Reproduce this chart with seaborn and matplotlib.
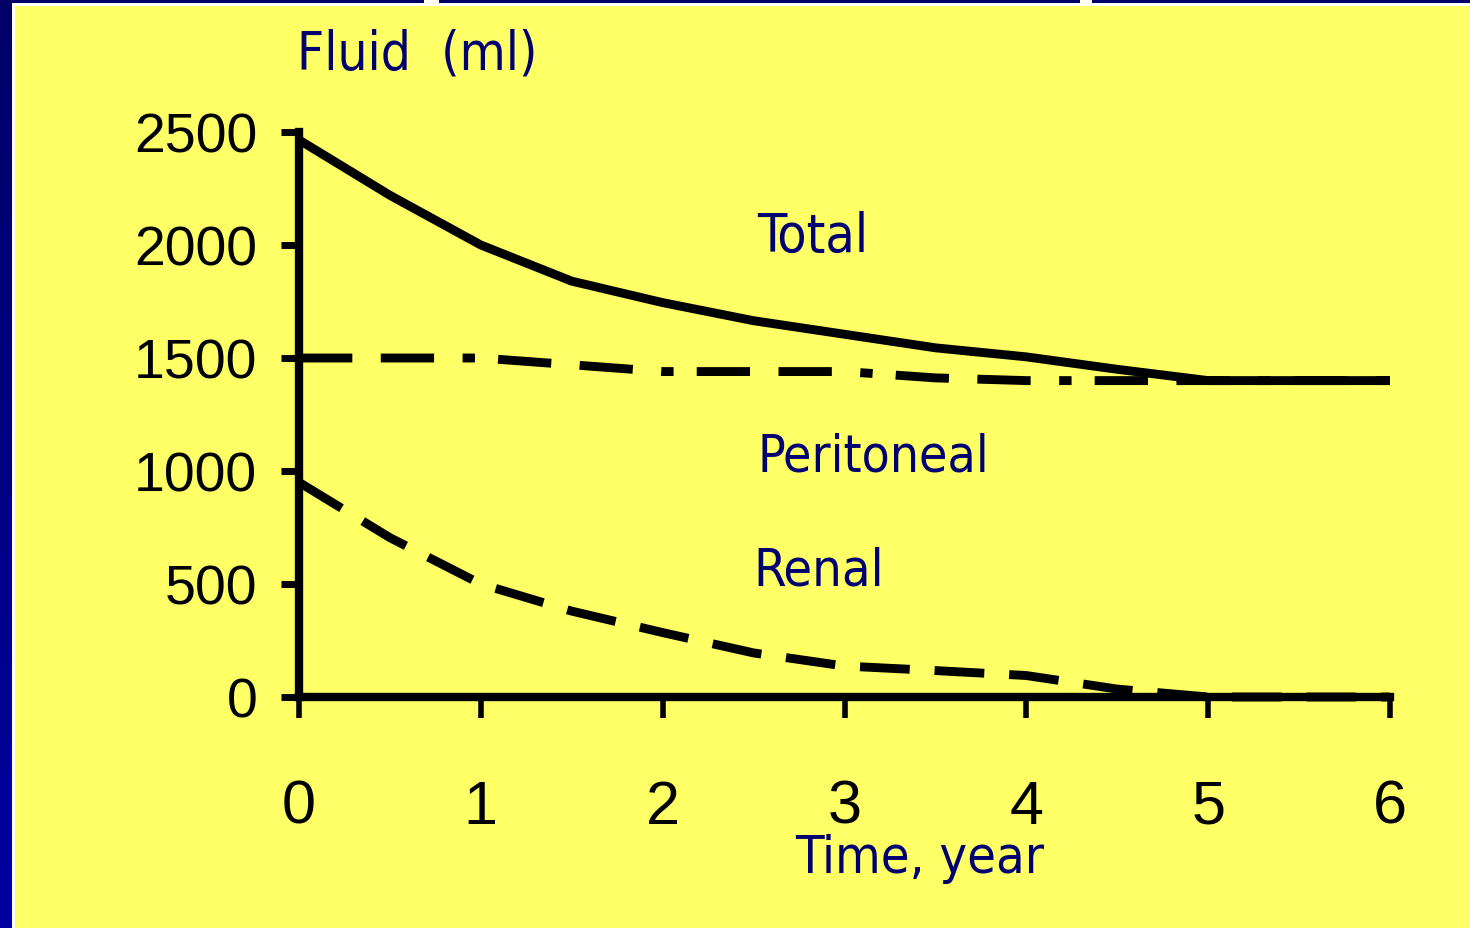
import numpy as np
import pandas as pd
import matplotlib
matplotlib.use("Agg")
import matplotlib.pyplot as plt
import seaborn as sns
from matplotlib.patches import Rectangle

# 数据
years = [0, 0.5, 1, 1.5, 2, 2.5, 3, 3.5, 4, 4.5, 5, 6]
total = [2465, 2220, 2000, 1840, 1745, 1665, 1605, 1545, 1505, 1450, 1400, 1400]
renal = [950, 705, 500, 380, 285, 195, 137, 117, 95, 35, 0, 0]
peri_years = [0, 1, 2, 3, 3.5, 4, 5, 6]
peritoneal = [1500, 1500, 1440, 1440, 1412, 1400, 1400, 1400]

x_ticks = [0, 1, 2, 3, 4, 5, 6]
y_ticks = [0, 500, 1000, 1500, 2000, 2500]

bg = "#FFFF66"
navy = "#000070"

sns.set_style("white")
plt.rcParams["font.family"] = ["Liberation Sans", "DejaVu Sans"]

fig = plt.figure(figsize=(14.7, 9.29), dpi=100, facecolor=bg)
W, H = 1470, 929

# 左侧和顶部的蓝色边框
grad = fig.add_axes([0, 0, 12 / W, 1])
grad.imshow(np.linspace(0, 1, 256).reshape(-1, 1), aspect="auto",
            cmap=matplotlib.colors.LinearSegmentedColormap.from_list("b", ["#000066", "#0000A2"]),
            extent=[0, 1, 0, 1], origin="upper")
grad.axis("off")
fig.patches.append(Rectangle((12 / W, 0), 3 / W, 1, transform=fig.transFigure,
                             facecolor="white", edgecolor="none"))
fig.patches.append(Rectangle((12 / W, 1 - 4 / H), 1, 4 / H, transform=fig.transFigure,
                             facecolor="#000066", edgecolor="none"))
fig.patches.append(Rectangle((15 / W, 1 - 7 / H), 1, 3 / H, transform=fig.transFigure,
                             facecolor="white", edgecolor="none"))
fig.patches.append(Rectangle((424 / W, 1 - 6 / H), 15 / W, 6 / H, transform=fig.transFigure,
                             facecolor="white", edgecolor="none"))
fig.patches.append(Rectangle((1080 / W, 1 - 6 / H), 12 / W, 6 / H, transform=fig.transFigure,
                             facecolor="white", edgecolor="none"))

ax = fig.add_axes([299 / W, (H - 698) / H, (1390 - 299) / W, (698 - 133) / H])
ax.set_facecolor("none")

df_tot = pd.DataFrame({"year": years, "ml": total})
df_ren = pd.DataFrame({"year": years, "ml": renal})
df_per = pd.DataFrame({"year": peri_years, "ml": peritoneal})

lw = 6.4
sns.lineplot(data=df_tot, x="year", y="ml", ax=ax, color="black", lw=lw,
             solid_joinstyle="miter", solid_capstyle="butt", clip_on=False)
sns.lineplot(data=df_per, x="year", y="ml", ax=ax, color="black", lw=lw,
             dashes=False, clip_on=False)
sns.lineplot(data=df_ren, x="year", y="ml", ax=ax, color="black", lw=lw,
             clip_on=False)
ax.lines[1].set_dashes([6.0, 3.2, 6.0, 3.2, 1.4, 2.6])
ax.lines[1].set_dash_capstyle("butt")
ax.lines[2].set_dashes([5.6, 2.8])
ax.lines[2].set_dash_capstyle("butt")

ax.set_xlim(0, 6)
ax.set_ylim(0, 2500)
ax.set_xticks(x_ticks)
ax.set_yticks(y_ticks)
ax.set_xticklabels([str(v) for v in x_ticks])
ax.set_yticklabels([str(v) for v in y_ticks])
ax.set_xlabel("")
ax.set_ylabel("")

for s in ["top", "right"]:
    ax.spines[s].set_visible(False)
for s in ["left", "bottom"]:
    ax.spines[s].set_linewidth(6)
    ax.spines[s].set_color("black")
    ax.spines[s].set_capstyle("projecting")

ax.tick_params(axis="y", left=True, direction="out", length=13, width=5, pad=17,
               labelsize=40, colors="black")
ax.tick_params(axis="x", bottom=True, direction="out", length=15, width=4, pad=44,
               labelsize=44, colors="black")

# 文字标注
tfont = dict(family="DejaVu Sans", color=navy, fontstretch="condensed")
ax.text(2.52, 1975, "Total", fontsize=38.5, ha="left", va="baseline", **tfont)
ax.text(2.52, 1000, "Peritoneal", fontsize=37, ha="left", va="baseline", **tfont)
ax.text(2.50, 496, "Renal", fontsize=37.5, ha="left", va="baseline", **tfont)
fig.text(297 / W, 1 - 70 / H, "Fluid  (ml)", fontsize=38, ha="left", va="baseline", **tfont)
fig.text(795 / W, 1 - 873 / H, "Time, year", fontsize=37.5, ha="left", va="baseline", **tfont)

fig.savefig("out.png", dpi=100, facecolor=bg)
